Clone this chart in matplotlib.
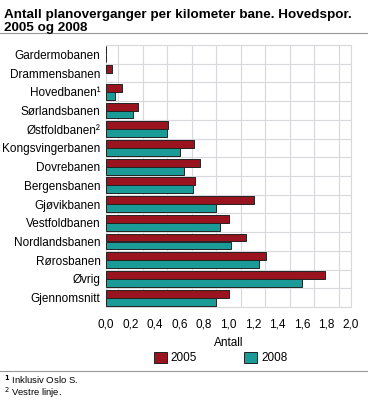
import numpy as np
import matplotlib
matplotlib.use("Agg")
import matplotlib.pyplot as plt
from matplotlib.patches import Patch

plt.rcParams['font.family'] = ['Liberation Sans', 'DejaVu Sans']

categories = ["Gardermobanen", "Drammensbanen", "Hovedbanen¹", "Sørlandsbanen",
              "Østfoldbanen²", "Kongsvingerbanen", "Dovrebanen", "Bergensbanen",
              "Gjøvikbanen", "Vestfoldbanen", "Nordlandsbanen", "Rørosbanen",
              "Øvrig", "Gjennomsnitt"]
v2005 = [0.0, 0.05, 0.13, 0.26, 0.51, 0.72, 0.77, 0.73, 1.21, 1.00, 1.14, 1.31, 1.79, 1.00]
v2008 = [0.0, np.nan, 0.07, 0.22, 0.50, 0.60, 0.64, 0.71, 0.895, 0.93, 1.02, 1.25, 1.60, 0.90]
xticks = [0.0, 0.2, 0.4, 0.6, 0.8, 1.0, 1.2, 1.4, 1.6, 1.8, 2.0]
xticklabels = ["0,0", "0,2", "0,4", "0,6", "0,8", "1,0", "1,2", "1,4", "1,6", "1,8", "2,0"]

c2005 = "#9a1420"
c2008 = "#1a9b97"
gridc = "#d8d8dc"

fig = plt.figure(figsize=(3.68, 4.0), dpi=100)
ax = fig.add_axes([106/368, 1 - 307/400, (351-106)/368, (307-45)/400])

n = len(categories)
y = np.arange(n)
h = 0.42
ax.barh(y - h/2, v2005, height=h, color=c2005, edgecolor="#222222", linewidth=0.7, zorder=3)
ax.barh(y + h/2, v2008, height=h, color=c2008, edgecolor="#222222", linewidth=0.7, zorder=3)

ax.set_xlim(0, 2.0)
ax.set_ylim(n - 0.5, -0.5)
ax.set_yticks(y)
ax.set_yticklabels(categories, fontsize=8.5)
ax.set_xticks(xticks)
ax.set_xticklabels(xticklabels, fontsize=8.5)
ax.set_xticks(np.arange(0, 2.01, 0.1), minor=True)
ax.set_yticks(np.arange(-0.5, n, 1.0), minor=True)
ax.grid(which="minor", color=gridc, linewidth=0.8, zorder=0)
ax.tick_params(which="both", length=0)
ax.tick_params(axis="y", pad=4)
ax.tick_params(axis="x", pad=8)
for s in ax.spines.values():
    s.set_color(gridc)
    s.set_linewidth(0.8)
ax.set_xlabel("Antall", fontsize=8.5, labelpad=5)

fig.text(0.012, 0.978, "Antall planoverganger per kilometer bane. Hovedspor.\n2005 og 2008",
         fontsize=9.7, fontweight="bold", va="top", ha="left", linespacing=1.12)
fig.add_artist(plt.Line2D([0, 1], [1 - 33/400, 1 - 33/400], color="#999999", linewidth=0.8))
fig.add_artist(plt.Line2D([0, 1], [1 - 371/400, 1 - 371/400], color="#999999", linewidth=0.8))

handles = [Patch(facecolor=c2005, edgecolor="#222222", linewidth=0.7),
           Patch(facecolor=c2008, edgecolor="#222222", linewidth=0.7)]
fig.legend(handles, ["2005", "2008"], loc="center", bbox_to_anchor=(0.6, 1 - 358/400),
           ncol=2, frameon=False, fontsize=8.5, handlelength=1.1, handleheight=1.1,
           handletextpad=0.3, columnspacing=4.0)

fig.text(0.012, 1 - 380/400, r"$^{\mathbf{1}}$ Inklusiv Oslo S.", fontsize=6.8, va="center")
fig.text(0.012, 1 - 393/400, r"$^{2}$ Vestre linje.", fontsize=6.8, va="center")

fig.savefig("out.png", dpi=100)
